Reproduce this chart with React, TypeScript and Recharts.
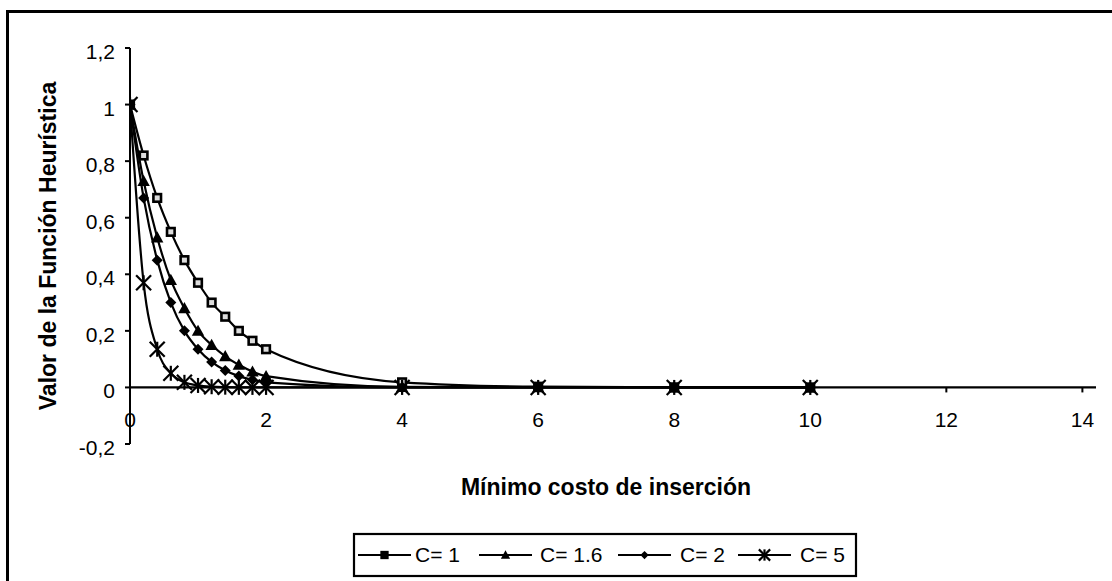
import React from "react";
import { LineChart, Line, XAxis, YAxis, ReferenceLine } from "recharts";

// Minimum insertion cost (x) and heuristic value for each C
const costs = [0, 0.2, 0.4, 0.6, 0.8, 1.0, 1.2, 1.4, 1.6, 1.8, 2.0, 4, 6, 8, 10];
const c1 = [1, 0.82, 0.67, 0.55, 0.45, 0.37, 0.3, 0.25, 0.2, 0.165, 0.135, 0.018, 0.0025, 0.0003, 0.00005];
const c16 = [1, 0.73, 0.53, 0.38, 0.28, 0.2, 0.15, 0.11, 0.08, 0.056, 0.04, 0.0017, 0.0001, 0, 0];
const c2 = [1, 0.67, 0.45, 0.3, 0.2, 0.135, 0.09, 0.06, 0.04, 0.027, 0.018, 0.0003, 0, 0, 0];
const c5 = [1, 0.37, 0.135, 0.05, 0.018, 0.007, 0.0025, 0.0009, 0.0003, 0.0001, 0.00005, 0, 0, 0, 0];

const xTicks = [0, 2, 4, 6, 8, 10, 12, 14];
const yTicks = [-0.2, 0, 0.2, 0.4, 0.6, 0.8, 1, 1.2];
const seriesNames = ["C= 1", "C= 1.6", "C= 2", "C= 5"];

const X_MAX = 14.2;
const Y_MIN = -0.2;
const Y_MAX = 1.2;

const W = 1112;
const H = 581;
const M_TOP = 48;
const M_BOTTOM = 107;
const X_AXIS_H = 30;
const Y_AXIS_W = 130;
const PLOT_H = H - M_TOP - M_BOTTOM - X_AXIS_H;
const ZERO_Y = M_TOP + (PLOT_H * Y_MAX) / (Y_MAX - Y_MIN);
const PLOT_MID_Y = M_TOP + PLOT_H / 2;

const FONT = "'Liberation Sans', Arial, sans-serif";
const FS = 21;
const TITLE_FS = 23;

const data = costs.map((x, i) => ({ x, c1: c1[i], c16: c16[i], c2: c2[i], c5: c5[i] }));

type MarkerKind = "square" | "triangle" | "diamond" | "star";

function Marker({ kind, cx, cy, scale = 1, solid = false }: { kind: MarkerKind; cx: number; cy: number; scale?: number; solid?: boolean }) {
  if (kind === "square") {
    const s = 3.8 * scale;
    return <rect x={cx - s} y={cy - s} width={2 * s} height={2 * s} fill={solid ? "#000" : "#ddd"} stroke="#000" strokeWidth={2.6} />;
  }
  if (kind === "triangle") {
    const s = 6.2 * scale;
    return <polygon points={`${cx},${cy - s} ${cx + s},${cy + s * 0.8} ${cx - s},${cy + s * 0.8}`} fill="#000" />;
  }
  if (kind === "diamond") {
    const s = 5.5 * scale;
    return <polygon points={`${cx},${cy - s} ${cx + s},${cy} ${cx},${cy + s} ${cx - s},${cy}`} fill="#000" />;
  }
  const s = 7.5 * scale;
  return (
    <g stroke="#000" strokeWidth={2.2}>
      <line x1={cx - s} y1={cy - s} x2={cx + s} y2={cy + s} />
      <line x1={cx - s} y1={cy + s} x2={cx + s} y2={cy - s} />
      <line x1={cx} y1={cy - s} x2={cx} y2={cy + s} />
    </g>
  );
}

const makeDot = (kind: MarkerKind) => (props: any) => {
  const { cx, cy, index } = props;
  if (cx == null || cy == null) return <g key={`${kind}-${index}`} />;
  return (
    <g key={`${kind}-${index}`}>
      <Marker kind={kind} cx={cx} cy={cy} />
    </g>
  );
};

const XTick = (props: any) => {
  const { x, payload } = props;
  return (
    <g>
      <line x1={x} y1={ZERO_Y} x2={x} y2={ZERO_Y + 5} stroke="#000" strokeWidth={2} />
      <text x={x} y={ZERO_Y + 40} textAnchor="middle" fontSize={FS} fontFamily={FONT} fill="#000">
        {payload.value}
      </text>
    </g>
  );
};

const fmtY = (v: number) => String(Math.round(v * 10) / 10).replace(".", ",");

const YTick = (props: any) => {
  const { x, y, payload } = props;
  return (
    <text x={x} y={y + 11} textAnchor="end" fontSize={FS} fontFamily={FONT} fill="#000">
      {fmtY(payload.value)}
    </text>
  );
};

const legendItems: { kind: MarkerKind; lineX: number; textX: number }[] = [
  { kind: "square", lineX: 358, textX: 415 },
  { kind: "triangle", lineX: 479, textX: 540 },
  { kind: "diamond", lineX: 618, textX: 680 },
  { kind: "star", lineX: 738, textX: 800 },
];

export default function App() {
  return (
    <div style={{ position: "fixed", left: 0, top: 0, width: W, height: H, overflow: "hidden", background: "#fff" }}>
      <div
        style={{
          position: "absolute",
          left: 6,
          top: 10,
          width: W + 20,
          height: H + 20,
          border: "3px solid #000",
          boxSizing: "border-box",
        }}
      />
      <div style={{ position: "absolute", left: 0, top: 0 }}>
        <LineChart
          width={W}
          height={H}
          data={data}
          margin={{ top: M_TOP, right: 16, bottom: M_BOTTOM, left: 0 }}
          style={{ fontFamily: FONT }}
        >
          <XAxis
            dataKey="x"
            type="number"
            domain={[0, X_MAX]}
            ticks={xTicks}
            height={X_AXIS_H}
            axisLine={false}
            tickLine={false}
            tick={<XTick />}
            interval={0}
            allowDataOverflow
          />
          <YAxis
            type="number"
            domain={[Y_MIN, Y_MAX]}
            ticks={yTicks}
            width={Y_AXIS_W}
            interval={0}
            axisLine={{ stroke: "#000", strokeWidth: 2 }}
            tickLine={{ stroke: "#000", strokeWidth: 2 }}
            tickSize={5}
            tickMargin={10}
            tick={<YTick />}
            allowDataOverflow
          />
          <ReferenceLine y={0} stroke="#000" strokeWidth={2.2} ifOverflow="extendDomain" />
          <Line dataKey="c1" type="monotone" stroke="#000" strokeWidth={2.2} dot={makeDot("square")} isAnimationActive={false} />
          <Line dataKey="c16" type="monotone" stroke="#000" strokeWidth={2.2} dot={makeDot("triangle")} isAnimationActive={false} />
          <Line dataKey="c2" type="monotone" stroke="#000" strokeWidth={2.2} dot={makeDot("diamond")} isAnimationActive={false} />
          <Line dataKey="c5" type="monotone" stroke="#000" strokeWidth={2.2} dot={makeDot("star")} isAnimationActive={false} />
        </LineChart>
      </div>
      <svg width={W} height={H} style={{ position: "absolute", left: 0, top: 0, pointerEvents: "none" }}>
        <text
          x={0}
          y={0}
          transform={`translate(56, ${PLOT_MID_Y}) rotate(-90)`}
          textAnchor="middle"
          fontSize={TITLE_FS}
          fontWeight="bold"
          fontFamily={FONT}
          fill="#000"
        >
          Valor de la Función Heurística
        </text>
        <text x={606} y={495} textAnchor="middle" fontSize={TITLE_FS} fontWeight="bold" fontFamily={FONT} fill="#000">
          Mínimo costo de inserción
        </text>
        <rect x={354} y={534} width={502} height={42} fill="#fff" stroke="#000" strokeWidth={2.2} />
        {legendItems.map((it, i) => (
          <g key={seriesNames[i]}>
            <line x1={it.lineX} y1={555} x2={it.lineX + 53} y2={555} stroke="#000" strokeWidth={2} />
            <Marker kind={it.kind} cx={it.lineX + 26.5} cy={555} scale={0.75} solid />
            <text x={it.textX} y={562} fontSize={FS} fontFamily={FONT} fill="#000">
              {seriesNames[i]}
            </text>
          </g>
        ))}
      </svg>
    </div>
  );
}
